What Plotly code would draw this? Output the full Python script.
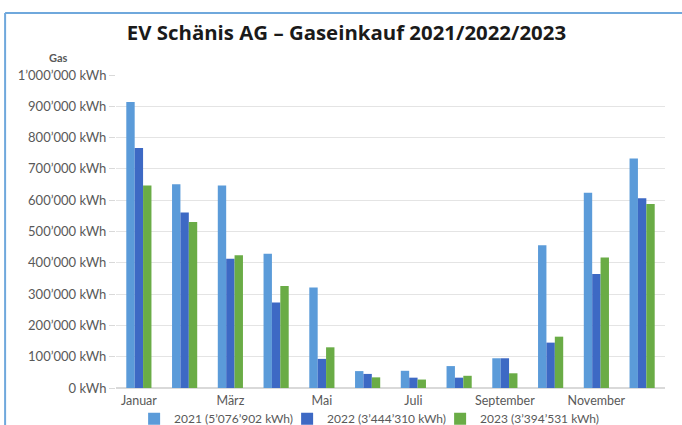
import plotly.graph_objects as go

months = ["Januar", "Februar", "März", "April", "Mai", "Juni", "Juli", "August",
          "September", "Oktober", "November", "Dezember"]
shown_months = ["Januar", "März", "Mai", "Juli", "September", "November"]
gas_2021 = [914000, 651000, 647000, 429000, 321000, 54000, 55000, 70000, 95000, 456000, 624000, 733000]
gas_2022 = [767000, 561000, 413000, 273000, 93000, 45000, 33000, 33000, 95000, 145000, 364000, 606000]
gas_2023 = [647000, 530000, 424000, 326000, 130000, 34000, 27000, 39000, 47000, 164000, 417000, 588000]
series_names = ["2021 (5’076’902 kWh)", "2022 (3’444’310 kWh)", "2023 (3’394’531 kWh)"]
y_ticks = [0, 100000, 200000, 300000, 400000, 500000, 600000, 700000, 800000, 900000, 1000000]
y_tick_text = ["0 kWh", "100’000 kWh", "200’000 kWh", "300’000 kWh", "400’000 kWh", "500’000 kWh",
               "600’000 kWh", "700’000 kWh", "800’000 kWh", "900’000 kWh", "1’000’000 kWh"]

colors = ["#5b9bd9", "#3d69c4", "#6aac46"]
legend_widths = [108, 108, 140]
fig = go.Figure()
for name, vals, c, lw in zip(series_names, [gas_2021, gas_2022, gas_2023], colors, legend_widths):
    fig.add_trace(go.Bar(x=months, y=vals, name=name, legendwidth=lw,
                         marker=dict(color=c, line=dict(width=0))))

font_main = "Lato, 'Liberation Sans', sans-serif"
fig.update_layout(
    width=682, height=425,
    margin=dict(l=116, r=17, t=75, b=37, autoexpand=False),
    paper_bgcolor="white", plot_bgcolor="white",
    barmode="group", bargap=0.45, bargroupgap=0,
    font=dict(family=font_main, size=13, color="#595959"),
    title=dict(text="<b>EV Schänis AG – Gaseinkauf 2021/2022/2023</b>",
               x=0.508, xanchor="center", y=0.922, yanchor="middle",
               font=dict(family="'Open Sans', sans-serif", size=20.4, color="#1a1a1a")),
    showlegend=True,
    legend=dict(orientation="h", x=0.033, xanchor="left", y=-0.052, yanchor="top",
                font=dict(size=12, color="#595959"), itemwidth=30, tracegroupgap=0,
                entrywidthmode="pixels",
                bgcolor="rgba(0,0,0,0)"),
    xaxis=dict(tickmode="array", tickvals=shown_months, ticktext=shown_months,
               showgrid=False, showline=True, linecolor="#d9d9d9", linewidth=1,
               ticks="", ticklabelstandoff=1, tickfont=dict(size=12.5, color="#595959")),
    yaxis=dict(range=[0, 1000000], tickmode="array", tickvals=y_ticks, ticktext=y_tick_text,
               showgrid=True, gridcolor="#e4e4e4", gridwidth=1,
               zeroline=True, zerolinecolor="#d9d9d9", showline=False,
               ticks="outside", ticklen=6, tickcolor="#d9d9d9",
               tickfont=dict(size=13, color="#595959")),
    annotations=[dict(text="<b>Gas</b>", xref="paper", yref="paper",
                      x=-0.105, y=1.0575, xanchor="center", yanchor="middle", showarrow=False,
                      font=dict(size=11, color="#595959"))],
    shapes=[
        dict(type="line", xref="paper", yref="paper", x0=-0.202, x1=1.04, y0=1.198, y1=1.198,
             line=dict(color="#6fa8dc", width=2)),
        dict(type="line", xref="paper", yref="paper", x0=-0.202, x1=-0.202, y0=1.198, y1=-0.2,
             line=dict(color="#6fa8dc", width=2)),
    ],
)

fig.write_html("out.html", config={"displayModeBar": False},
               post_script="document.body.style.margin='0';")
